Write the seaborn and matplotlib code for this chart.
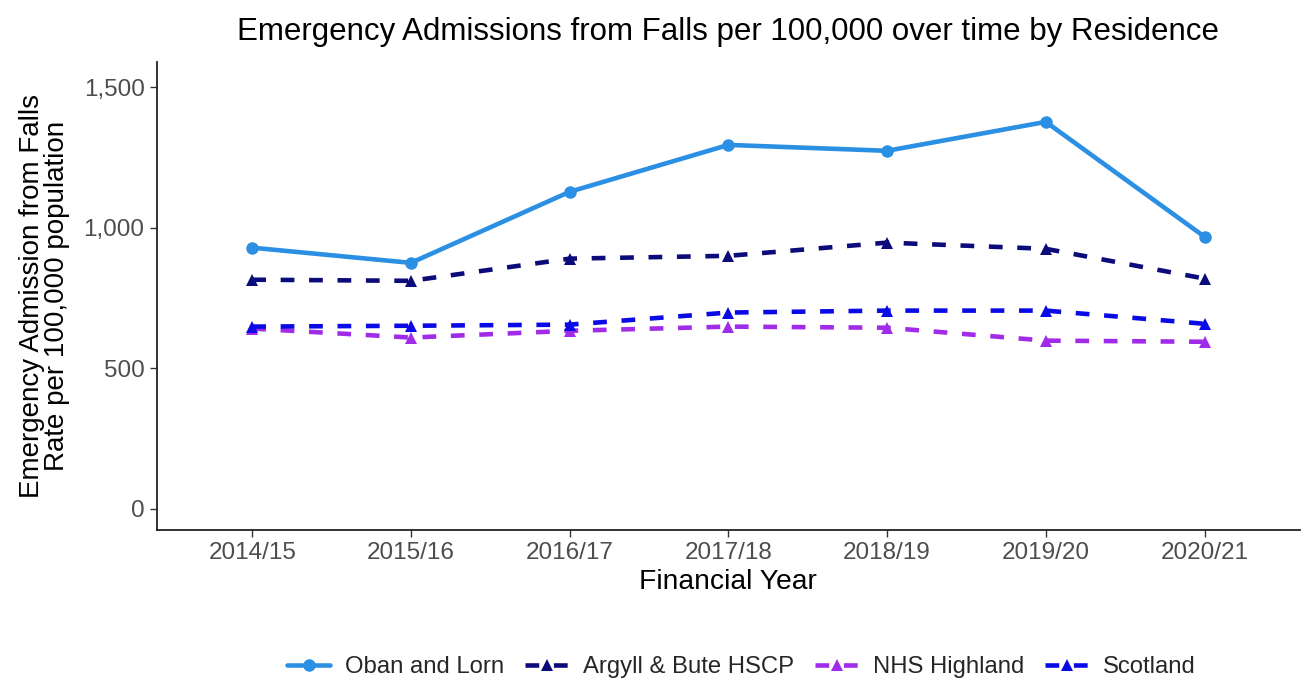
import numpy as np
import pandas as pd
import matplotlib
matplotlib.use("Agg")
import matplotlib.pyplot as plt
import seaborn as sns

# --- data ---
years = ["2014/15", "2015/16", "2016/17", "2017/18", "2018/19", "2019/20", "2020/21"]
oban_lorn = [929, 875, 1128, 1295, 1274, 1377, 968]
argyll_bute = [815, 811, 890, 900, 947, 925, 819]
nhs_highland = [641, 609, 633, 648, 644, 598, 594]
scotland = [648, 651, 655, 698, 705, 705, 658]

areas = ["Oban and Lorn", "Argyll & Bute HSCP", "NHS Highland", "Scotland"]
colours = ["#2B8FE3", "#0B0B7A", "#A02BE8", "#0A0AE6"]

df = pd.concat([
    pd.DataFrame({"year": years, "rate": vals, "area": name})
    for name, vals in zip(areas, [oban_lorn, argyll_bute, nhs_highland, scotland])
], ignore_index=True)
df["x"] = df["year"].map({y: i for i, y in enumerate(years)})

sns.set_theme(style="white")
plt.rcParams["font.family"] = ["Liberation Sans", "DejaVu Sans"]

fig = plt.figure(figsize=(13.03, 6.82), dpi=100)
ax = fig.add_axes([0.1205, 0.223, 0.877, 0.686])

palette = dict(zip(areas, colours))
dashes = {areas[0]: "", areas[1]: (3, 3.2), areas[2]: (3, 3.2), areas[3]: (3, 3.2)}
markers = {areas[0]: "o", areas[1]: "^", areas[2]: "^", areas[3]: "^"}

sns.lineplot(data=df, x="x", y="rate", hue="area", style="area",
             palette=palette, dashes=dashes, markers=markers,
             hue_order=areas, style_order=areas,
             linewidth=3.3, markersize=9, markeredgewidth=0, ax=ax, legend=True)

ax.set_xlim(-0.6, 6.6)
ax.set_ylim(-76, 1590)
ax.set_xticks(range(len(years)))
ax.set_xticklabels(years)
ax.set_yticks([0, 500, 1000, 1500])
ax.set_yticklabels(["0", "500", "1,000", "1,500"])
ax.tick_params(axis="both", labelsize=17.5, labelcolor="#4D4D4D", length=5, width=1,
               color="#333333", bottom=True, left=True, pad=4)

sns.despine(ax=ax)
for s in ["left", "bottom"]:
    ax.spines[s].set_color("#222222")
    ax.spines[s].set_linewidth(1.3)

ax.set_xlabel("Financial Year", fontsize=20.3, labelpad=3, color="black")
ax.set_ylabel("Emergency Admission from Falls\nRate per 100,000 population", fontsize=20,
              labelpad=10, color="black", linespacing=0.95)
ax.set_title("Emergency Admissions from Falls per 100,000 over time by Residence",
             fontsize=22.5, pad=16, color="black")

handles, labels = ax.get_legend_handles_labels()
ax.get_legend().remove()
fig.legend(handles, labels, loc="center", bbox_to_anchor=(0.569, 0.022), ncol=4,
           frameon=False, fontsize=17.2, handlelength=1.8, columnspacing=0.9, handletextpad=0.6)

fig.savefig("out.png", dpi=100)
